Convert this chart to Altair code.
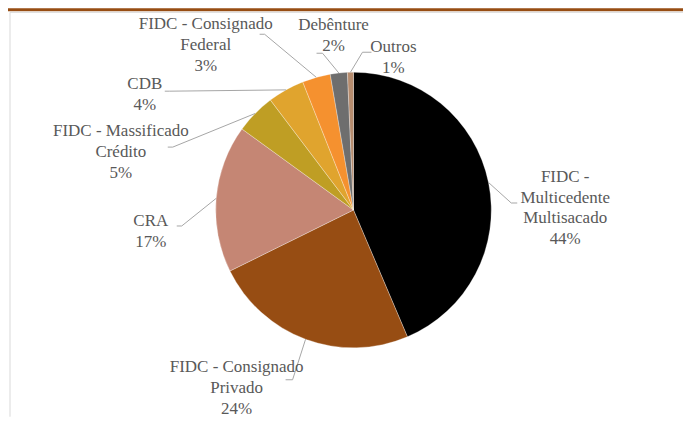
import math
import altair as alt
import pandas as pd

# ---- data ----
categories = [
    "FIDC - Multicedente Multisacado",
    "FIDC - Consignado Privado",
    "CRA",
    "FIDC - Massificado Crédito",
    "CDB",
    "FIDC - Consignado Federal",
    "Debênture",
    "Outros",
]
label_lines = [
    ["FIDC -", "Multicedente", "Multisacado"],
    ["FIDC - Consignado", "Privado"],
    ["CRA"],
    ["FIDC - Massificado", "Crédito"],
    ["CDB"],
    ["FIDC - Consignado", "Federal"],
    ["Debênture"],
    ["Outros"],
]
values = [43.6, 24.1, 17.3, 4.7, 4.3, 3.3, 2.0, 0.7]
colors = ["#000000", "#974D13", "#C58674", "#BF9E24", "#E0A42E", "#F5912F", "#6E6E6E", "#B68C6E"]

# ---- label layout (pixel offsets from the pie centre, y downward) ----
R = 138
LH = 21
label_center = [(212, -2), (-117, 178), (-203, 22), (-233, -58), (-209, -116), (-148, -165), (-20, -175), (40, -153)]
leader_elbow = [(158, -7), (-61, 170), (-172, 16), (-181, -63), (-184, -119), (-89, -176), (-31, -157), (9, -158)]
leader_tick = [(164, -7), (-68, 170), (-177, 16), (-186, -63), (-189, -119), (-94, -176), (-37, -157), (18, -158)]

W, H = 676, 409
XDOM = [-346, 330]
YDOM = [-202, 207]

total = sum(values)
pie = pd.DataFrame({"cat": categories, "value": values, "idx": list(range(len(values)))})

lab_rows = []
line_rows = []
cum = 0.0
for i, (c, v) in enumerate(zip(categories, values)):
    mid = (cum + v / 2) / total * 2 * math.pi
    cum += v
    lines_i = label_lines[i] + [f"{round(v)}%"]
    txt = "\n".join(lines_i)
    first_y = label_center[i][1] - (len(lines_i) - 1) * LH / 2
    lab_rows.append({"cat": c, "text": txt, "x": label_center[i][0], "y": first_y})
    sx, sy = R * math.sin(mid), -R * math.cos(mid)
    for k, (px, py) in enumerate([(sx, sy), leader_elbow[i], leader_tick[i]]):
        line_rows.append({"cat": c, "k": k, "x": px, "y": py})
labels = pd.DataFrame(lab_rows)
leaders = pd.DataFrame(line_rows)

xs = alt.Scale(domain=XDOM, nice=False, zero=False)
ys = alt.Scale(domain=YDOM, nice=False, zero=False, reverse=True)

arcs = alt.Chart(pie).mark_arc(outerRadius=R, innerRadius=0, stroke="#ffffff", strokeWidth=0.3).encode(
    x=alt.X(datum=0, scale=xs, axis=None),
    y=alt.Y(datum=0, scale=ys, axis=None),
    theta=alt.Theta("value:Q", stack=True),
    color=alt.Color("cat:N", scale=alt.Scale(domain=categories, range=colors), legend=None),
    order=alt.Order("idx:Q", sort="ascending"),
)

lines = alt.Chart(leaders).mark_line(color="#A6A6A6", strokeWidth=1).encode(
    x=alt.X("x:Q", scale=xs, axis=None),
    y=alt.Y("y:Q", scale=ys, axis=None),
    detail="cat:N",
    order="k:Q",
)

texts = alt.Chart(labels).mark_text(
    font="Liberation Serif, Times New Roman, Times, Tinos, DejaVu Serif, Noto Serif, serif",
    fontSize=17, color="#595959", lineBreak="\n",
    lineHeight=LH, align="center", baseline="middle",
).encode(
    x=alt.X("x:Q", scale=xs, axis=None),
    y=alt.Y("y:Q", scale=ys, axis=None),
    text="text:N",
)

band = alt.Chart(pd.DataFrame({"a": [0]})).mark_rect(color="#974D13").encode(
    x=alt.value(0), x2=alt.value(W), y=alt.value(0), y2=alt.value(3)
)
hline = alt.Chart(pd.DataFrame({"a": [0]})).mark_rule(color="#D9D9D9", strokeWidth=1).encode(
    x=alt.value(2), x2=alt.value(W), y=alt.value(4)
)
vline = alt.Chart(pd.DataFrame({"a": [0]})).mark_rule(color="#D9D9D9", strokeWidth=1).encode(
    x=alt.value(2), y=alt.value(4), y2=alt.value(H)
)

chart = alt.layer(band, hline, vline, arcs, lines, texts).properties(
    width=W, height=H, padding=0
).configure_view(stroke=None)

chart.save("out.html", embed_options={"renderer": "svg", "actions": False})
